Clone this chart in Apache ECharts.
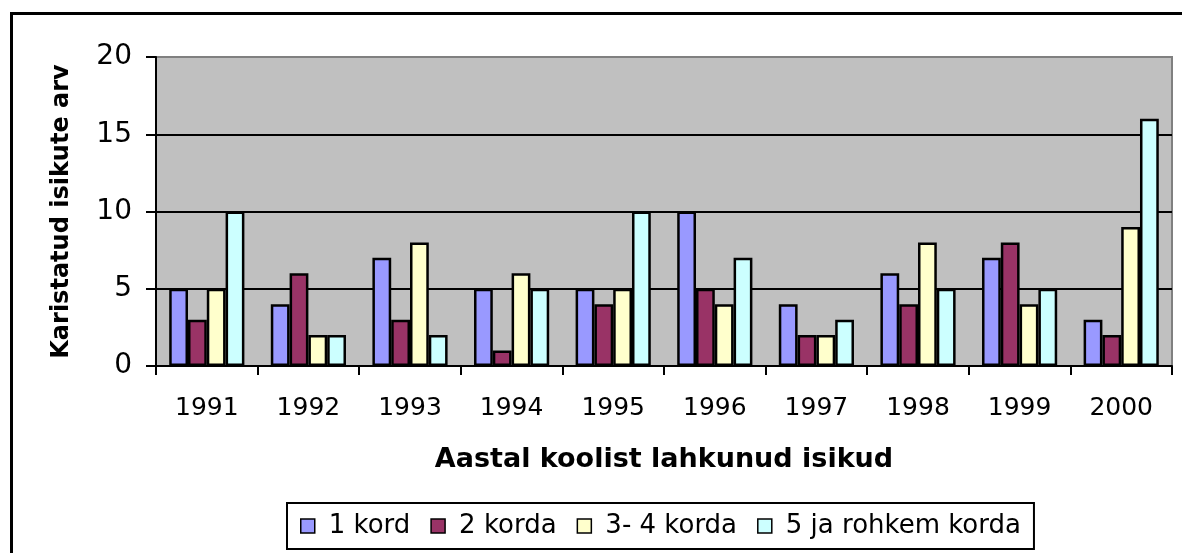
<!DOCTYPE html>
<html>
<head>
<meta charset="utf-8">
<script src="https://cdn.jsdelivr.net/npm/echarts@6/dist/echarts.min.js"></script>
<style>
html,body{margin:0;padding:0;background:#fff;}
#chart{width:1182px;height:553px;}
</style>
</head>
<body>
<div id="chart"></div>
<script>
const categories = ['1991','1992','1993','1994','1995','1996','1997','1998','1999','2000'];
const seriesNames = ['1 kord','2 korda','3- 4 korda','5 ja rohkem korda'];
const kord1 = [5,4,7,5,5,10,4,6,7,3];
const korda2 = [3,6,3,1,4,5,2,4,8,2];
const korda34 = [5,2,8,6,5,4,2,8,4,9];
const korda5plus = [10,2,2,5,10,7,3,5,5,16];
const colors = ['#9999FF','#993366','#FFFFCC','#CCFFFF'];
const yTitle = 'Karistatud isikute arv';
const xTitle = 'Aastal koolist lahkunud isikud';

const FONT = 'DejaVu Sans';
const chart = echarts.init(document.getElementById('chart'), null, {renderer:'canvas'});
const data = [kord1, korda2, korda34, korda5plus];
chart.setOption({
  animation:false,
  backgroundColor:'#ffffff',
  graphic:[{
    type:'rect', left:9, top:11, silent:true,
    shape:{x:0,y:0,width:1200,height:600},
    style:{fill:'none',stroke:'#000',lineWidth:3}
  }],
  grid:{left:156,right:10,top:57,bottom:187,show:true,backgroundColor:'#C0C0C0',borderColor:'#808080',borderWidth:2},
  legend:{
    left:287, top:503,
    data:seriesNames,
    icon:'rect', itemWidth:14, itemHeight:14, itemGap:20,
    padding:[10,13],
    borderColor:'#000', borderWidth:2,
    itemStyle:{borderColor:'#000',borderWidth:1.5},
    textStyle:{fontFamily:FONT,fontSize:26,color:'#000',padding:[0,0,0,9]}
  },
  xAxis:{
    type:'category', data:categories,
    name:xTitle, nameLocation:'middle', nameGap:80,
    nameTextStyle:{fontFamily:FONT,fontSize:27,fontWeight:'bold',color:'#000'},
    axisLine:{lineStyle:{color:'#000',width:2}},
    axisTick:{show:true,length:9,inside:false,lineStyle:{color:'#000',width:2}},
    axisLabel:{fontFamily:FONT,fontSize:25,color:'#000',margin:30}
  },
  yAxis:{
    type:'value', min:0, max:20, interval:5,
    name:yTitle, nameLocation:'middle', nameGap:82, nameRotate:90,
    nameTextStyle:{fontFamily:FONT,fontSize:24,fontWeight:'bold',color:'#000'},
    axisLine:{show:true,lineStyle:{color:'#000',width:2}},
    axisTick:{show:true,length:10,lineStyle:{color:'#000',width:2}},
    axisLabel:{fontFamily:FONT,fontSize:28,color:'#000',margin:24},
    splitLine:{show:true,showMaxLine:false,lineStyle:{color:'#000',width:2}}
  },
  series: seriesNames.map((n,i)=>({
    name:n, type:'bar', data:data[i],
    barGap:'0%', barCategoryGap:'26%',
    itemStyle:{color:colors[i],borderColor:'#000',borderWidth:2.5}
  }))
});
</script>
</body>
</html>
